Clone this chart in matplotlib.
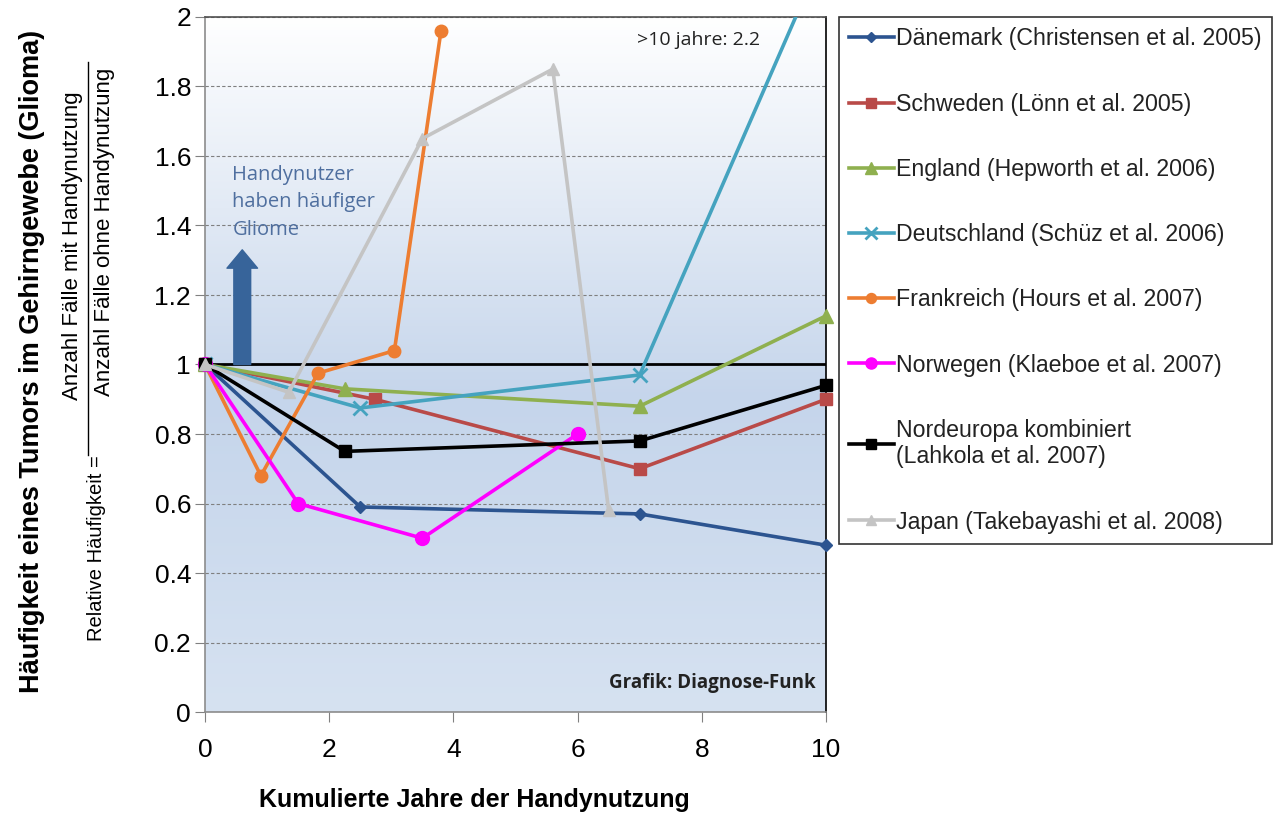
import numpy as np
import matplotlib
matplotlib.use("Agg")
from matplotlib import pyplot as plt
from matplotlib.lines import Line2D
from matplotlib.colors import LinearSegmentedColormap

plt.rcParams["font.family"] = ["Liberation Sans", "DejaVu Sans"]

# === DATA
years_dk = [0, 2.5, 7, 10]
rr_dk = [1.0, 0.59, 0.57, 0.48]

years_se = [0, 2.73, 7, 10]
rr_se = [1.0, 0.90, 0.70, 0.90]

years_uk = [0, 2.25, 7, 10]
rr_uk = [1.0, 0.93, 0.88, 1.14]

years_de = [0, 2.5, 7, 10]
rr_de = [1.0, 0.875, 0.97, 2.2]

years_fr = [0, 0.9, 1.82, 3.05, 3.8]
rr_fr = [1.0, 0.68, 0.975, 1.04, 1.96]

years_no = [0, 1.5, 3.5, 6.0]
rr_no = [1.0, 0.60, 0.50, 0.80]

years_ne = [0, 2.25, 7, 10]
rr_ne = [1.0, 0.75, 0.78, 0.94]

years_jp = [0, 1.35, 3.5, 5.6, 6.5]
rr_jp = [1.0, 0.92, 1.65, 1.85, 0.58]

labels = [
    "Dänemark (Christensen et al. 2005)",
    "Schweden (Lönn et al. 2005)",
    "England (Hepworth et al. 2006)",
    "Deutschland (Schüz et al. 2006)",
    "Frankreich (Hours et al. 2007)",
    "Norwegen (Klaeboe et al. 2007)",
    "Nordeuropa kombiniert\n(Lahkola et al. 2007)",
    "Japan (Takebayashi et al. 2008)",
]

# colours / markers per series
series = [
    (years_dk, rr_dk, "#2c5490", "D", 6),
    (years_se, rr_se, "#b94a48", "s", 9),
    (years_uk, rr_uk, "#8fb04f", "^", 10),
    (years_de, rr_de, "#45a3bf", "x", 10),
    (years_fr, rr_fr, "#ed7d31", "o", 9),
    (years_no, rr_no, "#ff00ff", "o", 10),
    (years_ne, rr_ne, "#000000", "s", 9),
    (years_jp, rr_jp, "#c4c4c4", "^", 9),
]

# === FIGURE
fig = plt.figure(figsize=(12.79, 8.22), dpi=100)
ax = fig.add_axes([205 / 1279, 1 - 712 / 822, 621 / 1279, 695 / 822])

# gradient background (white top -> light blue)
bg = LinearSegmentedColormap.from_list(
    "bg", [(0.0, "#ffffff"), (0.55, "#c5d5eb"), (1.0, "#d6e2f1")]
)
grad = np.linspace(0, 1, 256).reshape(-1, 1)
ax.imshow(grad, cmap=bg, extent=[0, 10, 0, 2], aspect="auto", zorder=0)

ax.set_xlim(0, 10)
ax.set_ylim(0, 2)
ax.set_xticks(np.arange(0, 11, 2))
ax.set_yticks(np.round(np.arange(0, 2.01, 0.2), 1))
ax.set_yticklabels(["0", "0.2", "0.4", "0.6", "0.8", "1", "1.2", "1.4", "1.6", "1.8", "2"])
ax.tick_params(axis="both", labelsize=19, direction="out", length=7,
               color="#808080", labelcolor="#000000")
ax.tick_params(axis="x", pad=12)
ax.tick_params(axis="y", pad=3)

ax.yaxis.grid(True, linestyle=(0, (3, 2)), color="#7f7f7f", linewidth=0.8, zorder=1)
ax.set_axisbelow(True)

for s in ["left", "bottom"]:
    ax.spines[s].set_color("#8c8c8c")
ax.spines["top"].set_color("#505050")
ax.spines["right"].set_color("#000000")
for s in ax.spines.values():
    s.set_linewidth(1.2)

# reference line at 1
ax.axhline(1, color="black", linewidth=2, zorder=2)

handles = []
for i, (x, y, c, m, ms) in enumerate(series):
    mew = 2 if m == "x" else 1
    ln, = ax.plot(x, y, color=c, marker=m, markersize=ms, linewidth=2.6,
                  markeredgewidth=mew, zorder=3 + i * 0.1,
                  clip_on=(m == "x"))
    handles.append(ln)

# arrow + annotation
ax.annotate("", xy=(0.6, 1.33), xytext=(0.6, 1.0),
            arrowprops=dict(arrowstyle="simple,head_length=0.6,head_width=1.0,tail_width=0.55",
                            color="#37649a", mutation_scale=22, shrinkA=0, shrinkB=0),
            zorder=4)
ax.text(0.44, 1.575, "Handynutzer\nhaben häufiger\nGliome", color="#4f6f9f",
        fontsize=14.5, family=["Open Sans", "DejaVu Sans"], va="top", ha="left",
        linespacing=1.5, zorder=5)
ax.text(6.95, 1.935, ">10 jahre: 2.2", fontsize=14,
        family=["Open Sans", "DejaVu Sans"], va="center", ha="left", color="#222222")
ax.text(9.83, 0.083, "Grafik: Diagnose-Funk", fontsize=13.5, fontweight="bold",
        family=["Open Sans", "DejaVu Sans"], va="center", ha="right", color="#222222")

# axis labels
fig.text(474 / 1279, 1 - 800 / 822, "Kumulierte Jahre der Handynutzung",
         fontsize=18, fontweight="bold", ha="center", va="center")
fig.text(32 / 1279, 1 - 361 / 822, "Häufigkeit eines Tumors im Gehirngewebe (Glioma)",
         fontsize=19.5, fontweight="bold", rotation=90, ha="center", va="center")

narrow = ["Liberation Sans Narrow", "Liberation Sans"]
fig.text(96 / 1279, 1 - 548 / 822, "Relative Häufigkeit =", family=narrow,
         fontsize=14.5, rotation=90, ha="center", va="center")
fig.text(73 / 1279, 1 - 246 / 822, "Anzahl Fälle mit Handynutzung", family=narrow,
         fontsize=16, rotation=90, ha="center", va="center")
fig.text(105 / 1279, 1 - 232 / 822, "Anzahl Fälle ohne Handynutzung", family=narrow,
         fontsize=16, rotation=90, ha="center", va="center")
fig.add_artist(Line2D([88 / 1279, 88 / 1279], [1 - 455 / 822, 1 - 62 / 822],
                      color="black", linewidth=1))

# legend
leg = fig.legend(handles, labels, loc="upper left",
                 bbox_to_anchor=(839 / 1279, 1 - 17 / 822),
                 fontsize=16.7, labelspacing=1.82, handlelength=1.9,
                 handletextpad=0.1, borderpad=0.45, frameon=True, fancybox=False,
                 borderaxespad=0, markerscale=0.8)
leg.get_frame().set_edgecolor("black")
leg.get_frame().set_linewidth(1.2)
for t in leg.get_texts():
    t.set_color("#222222")

plt.savefig("out.png", dpi=100)
